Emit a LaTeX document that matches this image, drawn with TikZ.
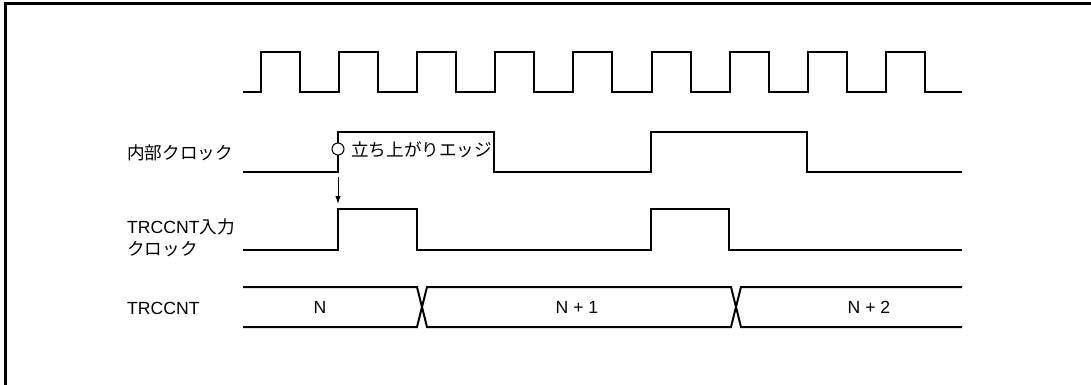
\documentclass[tikz,border=0pt]{standalone}
\usepackage{fontspec}
\setmainfont{Liberation Sans}
\newfontfamily\jp{Noto Sans CJK JP}
\usetikzlibrary{arrows.meta}
\tikzset{
  sig/.style={line width=2pt, line join=miter},
  lbl/.style={anchor=west, inner sep=0pt, font=\fontsize{17.6}{21}\selectfont},
}
\begin{document}
\begin{tikzpicture}[x=1pt, y=-1pt]
    \useasboundingbox (0,0) rectangle (1091,385);
    % frame
    \draw[line width=3pt] (1091,4) -- (5,4) -- (5,385);

    % source clock
    \draw[sig] (243,92) foreach \k in {0,...,8} {
        -- ({261+78.1*\k},92) -- ({261+78.1*\k},52)
        -- ({300+78.1*\k},52) -- ({300+78.1*\k},92) } -- (962,92);

    % internal clock
    \draw[sig] (243,172) -- (338,172) -- (338,132) -- (494,132) -- (494,172)
        -- (651,172) -- (651,132) -- (807,132) -- (807,172) -- (962,172);

    % TRCCNT input clock
    \draw[sig] (243,250) -- (338,250) -- (338,209) -- (417,209) -- (417,250)
        -- (651,250) -- (651,209) -- (729,209) -- (729,250) -- (962,250);

    % TRCCNT bus
    \draw[sig] (243,287) -- (417,287) -- (427,327) -- (731,327) -- (741,287) -- (962,287);
    \draw[sig] (243,327) -- (417,327) -- (427,287) -- (731,287) -- (741,327) -- (962,327);

    \node[lbl] (intclk) at (127,153) {\jp 内部クロック};
    \node[lbl] (inclk1) at (127,227) {TRCCNT{\jp 入力}};
    \node[lbl] (inclk2) at (127,249) {\jp クロック};
    \node[lbl] (cnt) at (127,308) {TRCCNT};

    \node[lbl, anchor=center] (n0) at (320,307) {N};
    \node[lbl, anchor=center] (n1) at (577,307) {N + 1};
    \node[lbl, anchor=center] (n2) at (869,307) {N + 2};

    % rising edge mark
    \node[circle, draw, fill=white, line width=1pt, minimum size=12pt, inner sep=0pt] (edge) at (338,149) {};
    \node[lbl] (edgetxt) at (351,150) {\jp 立ち上がりエッジ};
    \coordinate (tail) at (338,177);
    \coordinate (tip) at (338,204);
    \draw[line width=1pt, -{Latex[length=8pt, width=5.5pt]}] (tail) -- (tip);
\end{tikzpicture}
\end{document}
